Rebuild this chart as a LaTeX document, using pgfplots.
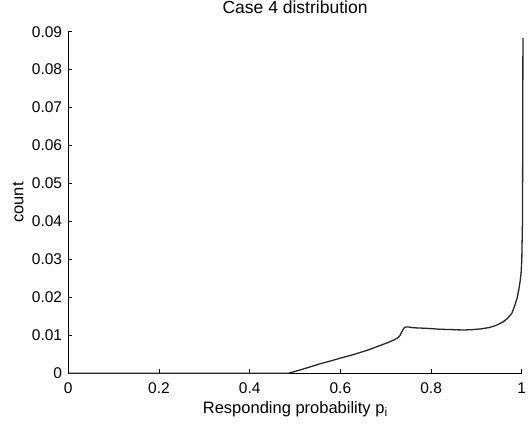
\documentclass[border=0pt]{standalone}
\usepackage{fontspec}
\setmainfont{Liberation Sans}
\usepackage{pgfplots}
\pgfplotsset{compat=1.18}

\newcommand{\ticksize}{\fontsize{15.5bp}{18bp}\selectfont}
\newcommand{\labelsize}{\fontsize{16.5bp}{19bp}\selectfont}
\newcommand{\titlesize}{\fontsize{17.5bp}{20bp}\selectfont}

\begin{document}
\begin{tikzpicture}
\begin{axis}[
  name=ax,
  scale only axis,
  width=453.5bp, height=341.6bp,
  xmin=0, xmax=1, ymin=0, ymax=0.09,
  axis x line*=bottom, axis y line*=left,
  axis line style={black, line width=1bp},
  tick align=inside,
  major tick length=4bp,
  tick style={black, line width=0.9bp},
  xtick={0,0.2,0.4,0.6,0.8,1},
  ytick={0,0.01,0.02,0.03,0.04,0.05,0.06,0.07,0.08,0.09},
  scaled y ticks=false,
  scaled x ticks=false,
  /pgf/number format/assume math mode=true,
  yticklabel style={/pgf/number format/fixed, /pgf/number format/precision=2, inner sep=0pt, xshift=-6bp},
  xticklabel style={inner sep=0pt, yshift=-9bp},
  tick label style={font=\ticksize},
  title style={at={(axis description cs:0.5,1)}, anchor=base, yshift=12bp},
  title={\titlesize Case 4 distribution},
  xlabel={\labelsize Responding probability p\raisebox{-3bp}{\fontsize{12bp}{13bp}\selectfont i}},
  xlabel style={at={(axis description cs:0.5,0)}, anchor=base, yshift=-40bp},
  ylabel={\labelsize count},
  ylabel style={at={(axis description cs:-0.0992,0.5)}, anchor=base},
  clip=false,
]
\addplot[black!85, line width=1.3bp] coordinates {
  (0,0) (0.485,0) (0.50,0.0005) (0.52,0.0012) (0.555,0.0025) (0.58,0.0033)
  (0.60,0.0040) (0.628,0.0049) (0.66,0.0061) (0.687,0.0073) (0.705,0.0081)
  (0.72,0.0089) (0.727,0.0094) (0.731,0.0099) (0.734,0.0106) (0.737,0.0113)
  (0.740,0.0119) (0.744,0.0122) (0.75,0.0122) (0.761,0.0120) (0.78,0.0119)
  (0.797,0.0118) (0.82,0.0116) (0.85,0.0115) (0.871,0.0114) (0.89,0.0115)
  (0.91,0.0117) (0.93,0.0121) (0.945,0.0127) (0.958,0.0135) (0.968,0.0144)
  (0.978,0.0158) (0.985,0.0180) (0.990,0.0200) (0.993,0.0218) (0.996,0.0240)
  (0.9985,0.0265) (1.0,0.030) (1.0015,0.040) (1.002,0.060) (1.0025,0.0883)
};
\end{axis}
\pgfresetboundingbox
\path[use as bounding box] (ax.south west) ++(-68.3bp,-51.7bp) rectangle ++(528bp,425bp);
\end{tikzpicture}
\end{document}
